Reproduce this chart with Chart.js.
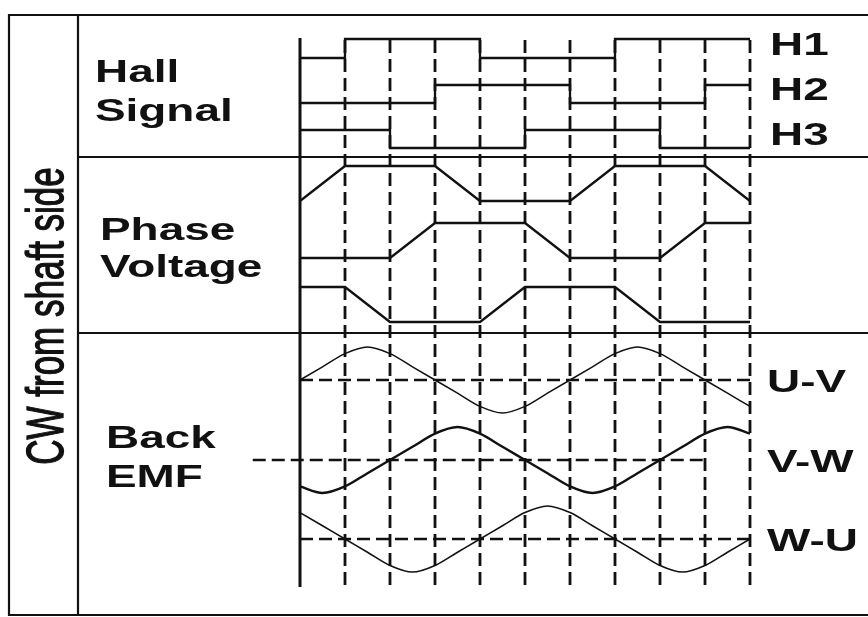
<!DOCTYPE html>
<html>
<head>
<meta charset="utf-8">
<script src="https://cdn.jsdelivr.net/npm/chart.js@4/dist/chart.umd.min.js"></script>
<style>
  html, body { margin: 0; padding: 0; background: #fff; }
  #wrap { width: 868px; height: 617px; }
</style>
</head>
<body>
<div id="wrap"><canvas id="c" width="868" height="617"></canvas></div>
<script>
// Electrical angle of each commutation boundary (degrees)
const angles = [0, 60, 120, 180, 240, 300, 360, 420, 480, 540, 600];

// Hall sensor state in each 60° sector
const hallH1 = [0, 1, 1, 1, 0, 0, 0, 1, 1, 1];
const hallH2 = [0, 0, 0, 1, 1, 1, 0, 0, 0, 1];
const hallH3 = [1, 1, 0, 0, 0, 1, 1, 1, 0, 0];

// Phase voltage level at each boundary (straight ramps in between)
const phaseU = [0, 1, 1, 1, 0, 0, 0, 1, 1, 1, 0];
const phaseV = [0, 0, 0, 1, 1, 1, 0, 0, 0, 1, 1];
const phaseW = [1, 1, 0, 0, 0, 1, 1, 1, 0, 0, 0];

// Line-to-line back EMF, sampled every 30°, relative to peak
const emfAngles = [0, 30, 60, 90, 120, 150, 180, 210, 240, 270, 300, 330, 360, 390, 420, 450, 480, 510, 540, 570, 600];
const emfUV = [0, 0.4, 0.8, 1, 0.8, 0.4, 0, -0.4, -0.8, -1, -0.8, -0.4, 0, 0.4, 0.8, 1, 0.8, 0.4, 0, -0.4, -0.8];
const emfVW = [-0.8, -1, -0.8, -0.4, 0, 0.4, 0.8, 1, 0.8, 0.4, 0, -0.4, -0.8, -1, -0.8, -0.4, 0, 0.4, 0.8, 1, 0.8];
const emfWU = [0.8, 0.4, 0, -0.4, -0.8, -1, -0.8, -0.4, 0, 0.4, 0.8, 1, 0.8, 0.4, 0, -0.4, -0.8, -1, -0.8, -0.4, 0];

// Trace names
const hallNames = ['H1', 'H2', 'H3'];
const emfNames = ['U-V', 'V-W', 'W-U'];

// Vertical lane of each trace (row of its low/zero level, and swing height)
const lanes = {
  H1: { base: 58, amp: 19 },
  H2: { base: 103, amp: 18 },
  H3: { base: 148, amp: 18 },
  U: { base: 201, amp: 35 },
  V: { base: 258, amp: 35 },
  W: { base: 322, amp: 35 },
  'U-V': { base: 380, amp: 33, from: 0 },
  'V-W': { base: 460, amp: 33, from: -63 },
  'W-U': { base: 539, amp: 33, from: 0 }
};

const INK = '#111';
const datasets = [];

// Hall square waves (sector states, held to the last boundary)
[hallH1, hallH2, hallH3].forEach((states, k) => {
  const lane = lanes[hallNames[k]];
  datasets.push({
    label: hallNames[k],
    data: angles.map((a, i) => ({ x: a, y: lane.base - lane.amp * states[Math.min(i, states.length - 1)] })),
    stepped: true,
    borderColor: INK, borderWidth: 2.3, pointRadius: 0, fill: false
  });
});

// Trapezoidal phase voltages
[['U', phaseU], ['V', phaseV], ['W', phaseW]].forEach(([name, levels]) => {
  const lane = lanes[name];
  datasets.push({
    label: 'Phase ' + name,
    data: angles.map((a, i) => ({ x: a, y: lane.base - lane.amp * levels[i] })),
    borderColor: INK, borderWidth: 2.3, pointRadius: 0, fill: false, tension: 0
  });
});

// Back EMF curves
const emfWidths = [1.5, 2.4, 1.6];
[emfUV, emfVW, emfWU].forEach((vals, k) => {
  const lane = lanes[emfNames[k]];
  datasets.push({
    label: emfNames[k],
    data: emfAngles.map((a, i) => ({ x: a, y: lane.base - lane.amp * vals[i] })),
    borderColor: INK, borderWidth: emfWidths[k], pointRadius: 0, fill: false,
    cubicInterpolationMode: 'monotone'
  });
});

// Dashed zero lines of the back EMF traces
emfNames.forEach(name => {
  const lane = lanes[name];
  const end = name === 'V-W' ? angles[9] : angles[angles.length - 1];
  datasets.push({
    label: name + ' zero',
    data: [{ x: lane.from, y: lane.base }, { x: end, y: lane.base }],
    borderColor: INK, borderWidth: 2.4, borderDash: [13, 6], pointRadius: 0, fill: false
  });
});

// Dashed commutation markers
angles.slice(1).forEach(a => {
  datasets.push({
    label: 'mark ' + a,
    data: [{ x: a, y: 40 }, { x: a, y: 587 }],
    borderColor: INK, borderWidth: 2.8, borderDash: [13, 6], pointRadius: 0, fill: false
  });
});

// Solid time origin
datasets.push({
  label: 'origin',
  data: [{ x: 0, y: 38 }, { x: 0, y: 587 }],
  borderColor: INK, borderWidth: 3, pointRadius: 0, fill: false
});

// Table frame and the text labels
const framePlugin = {
  id: 'frame',
  afterDraw(chart) {
    const ctx = chart.ctx;
    ctx.save();
    ctx.strokeStyle = INK;
    ctx.lineWidth = 2.2;
    ctx.beginPath();
    ctx.moveTo(880, 15); ctx.lineTo(9, 15); ctx.lineTo(9, 615); ctx.lineTo(880, 615);
    ctx.moveTo(78, 15); ctx.lineTo(78, 615);
    ctx.moveTo(78, 157); ctx.lineTo(880, 157);
    ctx.moveTo(78, 333); ctx.lineTo(880, 333);
    ctx.stroke();

    ctx.fillStyle = INK;
    ctx.textBaseline = 'alphabetic';
    const wide = (text, x, y) => {
      ctx.save();
      ctx.translate(x, y);
      ctx.scale(1.48, 1);
      ctx.textAlign = 'left';
      ctx.fillText(text, 0, 0);
      ctx.restore();
    };
    ctx.font = 'bold 31px "Liberation Sans", Arial, sans-serif';
    wide('Hall', 95, 82);
    wide('Signal', 95, 121);
    wide('Phase', 100, 240);
    wide('Voltage', 100, 277);
    wide('Back', 106, 448);
    wide('EMF', 106, 487);

    const x0 = chart.scales.x;
    const y0 = chart.scales.y;
    const right = x0.getPixelForValue(angles[angles.length - 1]) + 20;
    hallNames.forEach(n => wide(n, right, y0.getPixelForValue(lanes[n].base) - 3));
    emfNames.forEach(n => wide(n, right - 3, y0.getPixelForValue(lanes[n].base) + 12));

    // Rotated side caption
    ctx.save();
    ctx.translate(63, 316);
    ctx.scale(1.5, 1);
    ctx.rotate(-Math.PI / 2);
    ctx.textAlign = 'center';
    ctx.font = '35px "Liberation Sans", Arial, sans-serif';
    ctx.lineWidth = 0.9;
    ctx.strokeStyle = INK;
    ctx.fillText('CW from shaft side', 0, 0);
    ctx.strokeText('CW from shaft side', 0, 0);
    ctx.restore();
    ctx.restore();
  }
};

new Chart(document.getElementById('c'), {
  type: 'line',
  data: { datasets },
  options: {
    responsive: false,
    animation: false,
    devicePixelRatio: 1,
    layout: { padding: 0 },
    plugins: { legend: { display: false }, tooltip: { enabled: false } },
    scales: {
      x: { type: 'linear', display: false, min: -400, max: 757.333 },
      y: { type: 'linear', display: false, min: 0, max: 617, reverse: true }
    },
    elements: { point: { radius: 0 }, line: { borderCapStyle: 'butt' } }
  },
  plugins: [framePlugin]
});
</script>
</body>
</html>
